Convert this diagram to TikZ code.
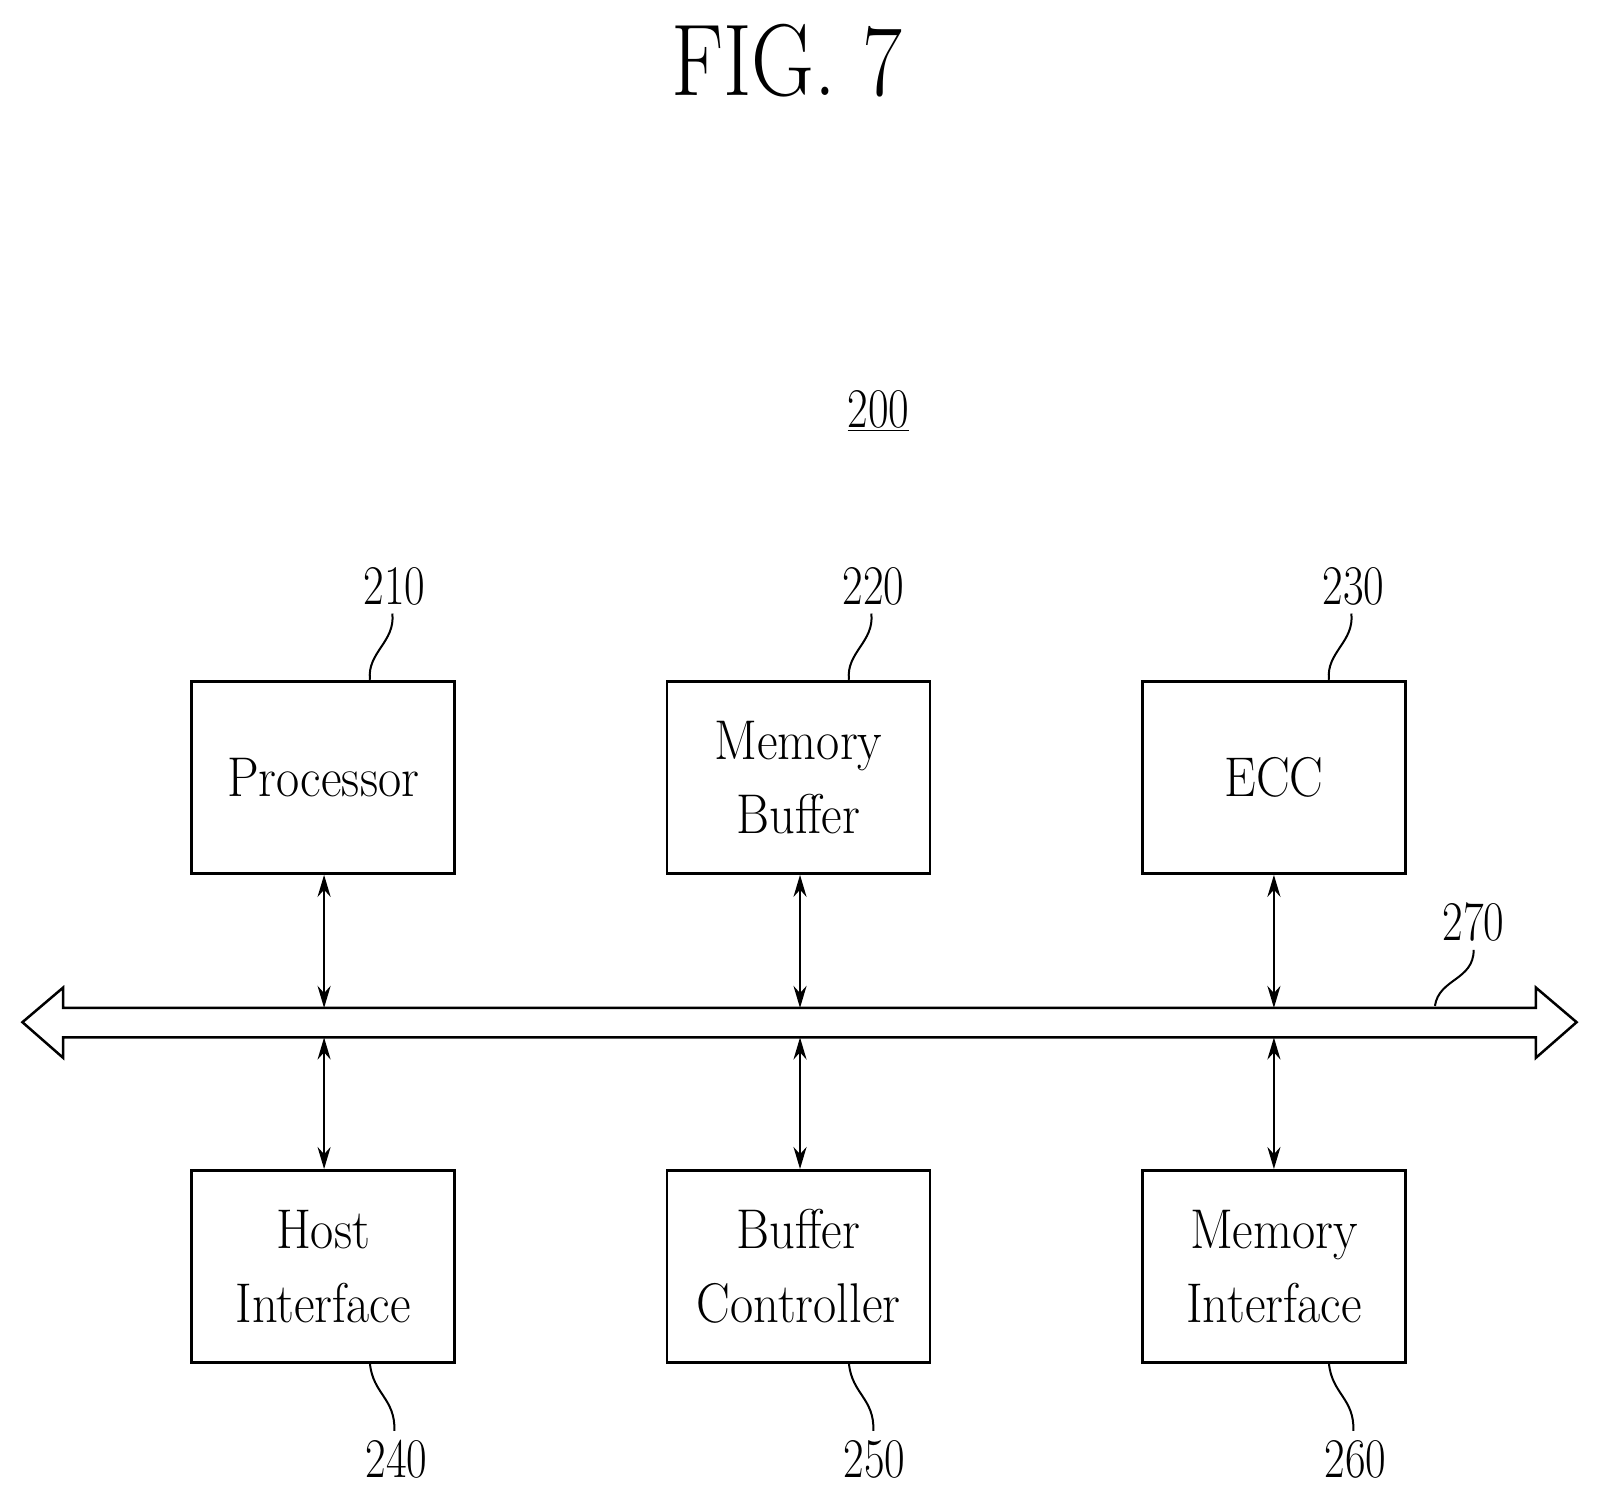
\documentclass[tikz,border=0pt]{standalone}
\usetikzlibrary{arrows.meta}
\newcommand{\sq}[1]{\scalebox{0.8}[1]{#1}}
\newcommand{\sqb}[1]{\scalebox{0.9}[1]{#1}}
\begin{document}
\begin{tikzpicture}[x=1.019pt,y=-1.019pt,
  box/.style={draw,line width=2.5pt,minimum width=263pt,minimum height=192pt,align=center,font=\fontsize{56}{74}\selectfont,inner sep=0pt},
  num/.style={font=\fontsize{56}{60}\selectfont,inner sep=1pt},
  lead/.style={line width=2pt},
  arr/.style={line width=2.5pt,{Stealth[length=22pt,width=13pt]}-{Stealth[length=22pt,width=13pt]}}]
\useasboundingbox (0,0) rectangle (1568,1472);
\node[font=\fontsize{102}{104}\selectfont] (fig) at (772,60) {\scalebox{0.85}[1]{FIG. 7}};
\node[num] (n200) at (862,403) {\underline{\sq{200}}};
\node[box] (p) at (317,763) {\sqb{Processor}};
\node[box] (mb) at (783.5,763) {\sqb{Memory}\\\sqb{Buffer}};
\node[box] (ecc) at (1250,763) {\sqb{ECC}};
\node[box] (hi) at (317,1242.5) {\sqb{Host}\\\sqb{Interface}};
\node[box] (bc) at (783.5,1242.5) {\sqb{Buffer}\\\sqb{Controller}};
\node[box] (mi) at (1250,1242.5) {\sqb{Memory}\\\sqb{Interface}};
\draw[line width=2.5pt,fill=white] (22,1003) -- (62,969) -- (62,989) -- (1507,989) -- (1507,969) -- (1547,1003) -- (1507,1038) -- (1507,1018) -- (62,1018) -- (62,1038) -- cycle;
\foreach \n/\x in {a/318,b/785,c/1250}{
  \coordinate (t\n) at (\x,989); \coordinate (u\n) at (\x,1018);}
\draw[arr] (p.south -| ta) -- (ta);
\draw[arr] (mb.south -| tb) -- (tb);
\draw[arr] (ecc.south -| tc) -- (tc);
\draw[arr] (ua) -- (hi.north -| ua);
\draw[arr] (ub) -- (bc.north -| ub);
\draw[arr] (uc) -- (mi.north -| uc);
\node[num] (n210) at (387,575) {\sq{210}};
\node[num] (n220) at (857,575) {\sq{220}};
\node[num] (n230) at (1328,575) {\sq{230}};
\node[num] (n240) at (389,1432) {\sq{240}};
\node[num] (n250) at (858,1432) {\sq{250}};
\node[num] (n260) at (1330,1432) {\sq{260}};
\node[num] (n270) at (1446,905) {\sq{270}};
\draw[lead] (363,667) .. controls (360,640) and (388,630) .. (385,602);
\draw[lead] (833,667) .. controls (830,640) and (858,630) .. (855,602);
\draw[lead] (1304,667) .. controls (1301,640) and (1329,630) .. (1326,602);
\draw[lead] (363,1338) .. controls (366,1368) and (388,1372) .. (387,1404);
\draw[lead] (833,1338) .. controls (836,1368) and (858,1372) .. (857,1404);
\draw[lead] (1304,1338) .. controls (1307,1368) and (1329,1372) .. (1328,1404);
\draw[lead] (1408,987) .. controls (1412,960) and (1446,962) .. (1446,932);
\end{tikzpicture}
\end{document}
